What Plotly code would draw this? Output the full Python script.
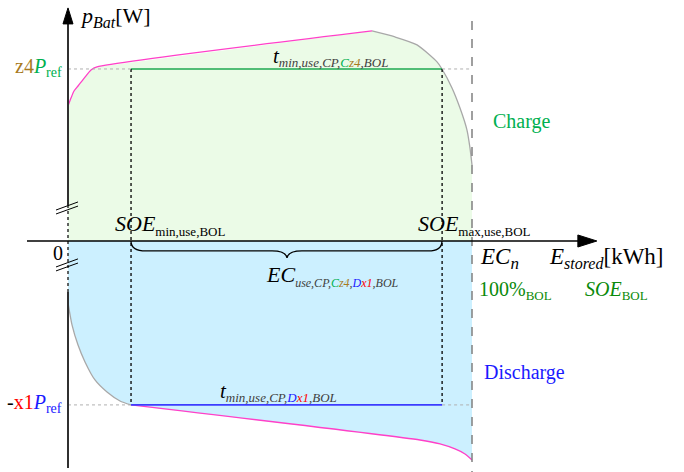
import plotly.graph_objects as go

# ---- data (energy in % of EC_n, power normalised to the charge level) ----
SOE_MIN = 15.6        # SOE_min,use,BOL
SOE_MAX = 92.6        # SOE_max,use,BOL
EC_N = 100.0          # nominal capacity
P_CHARGE = 1.0        # z4 * P_ref
P_DISCH = -0.953      # -x1 * P_ref

# charge power limit (pink) and its high-SOE roll-off (grey)
chg_lim_E = [0, 0.74, 1.49, 2.48, 4.21, 5.69, 7.18, 75.25]
chg_lim_P = [0.785, 0.831, 0.872, 0.901, 0.953, 0.994, 1.012, 1.221]
chg_roll_E = [75.25, 80.94, 86.39, 91.34, 92.57, 95.05, 97.03, 98.76, 99.5, 100]
chg_roll_P = [1.221, 1.186, 1.140, 1.041, 1.0, 0.890, 0.773, 0.645, 0.541, 0.442]

# discharge low-SOE roll-off (grey) and discharge power limit (pink)
dis_roll_E = [0, 0.99, 2.48, 4.21, 6.68, 9.65, 12.87, 15.59]
dis_roll_P = [-0.360, -0.488, -0.605, -0.703, -0.808, -0.878, -0.930, -0.953]
dis_lim_E = [15.59, 87.13, 92.08, 95.79, 98.27, 100]
dis_lim_P = [-0.953, -1.157, -1.180, -1.209, -1.238, -1.273]

X_RANGE = [-16.832, 152.475]
Y_RANGE = [-1.343, 1.401]

FONT = "Liberation Serif, Times New Roman, serif"
GREEN = "#00B050"
DKGREEN = "#0A8A0A"
BROWN = "#A87A1E"
RED = "#FF0000"
BLUE = "#1A1AFF"
PINK = "#FF40C8"
GREY = "#A8A8A8"
SUBGREY = "#404040"

fig = go.Figure()

# charge area
fig.add_trace(go.Scatter(
    x=[0] + chg_lim_E + chg_roll_E[1:] + [EC_N, 0],
    y=[0] + chg_lim_P + chg_roll_P[1:] + [0, 0],
    fill="toself", fillcolor="#EBFBE7", mode="none", hoverinfo="skip"))
# discharge area
fig.add_trace(go.Scatter(
    x=[0] + dis_roll_E + dis_lim_E[1:] + [EC_N, 0],
    y=[0] + dis_roll_P + dis_lim_P[1:] + [0, 0],
    fill="toself", fillcolor="#CCF0FF", mode="none", hoverinfo="skip"))

# boundary curves
for xs, ys, c, w in [(chg_lim_E, chg_lim_P, PINK, 1.3),
                     (chg_roll_E, chg_roll_P, GREY, 1.3),
                     (dis_roll_E, dis_roll_P, GREY, 1.3),
                     (dis_lim_E, dis_lim_P, PINK, 1.3)]:
    fig.add_trace(go.Scatter(x=xs, y=ys, mode="lines",
                             line=dict(color=c, width=w, shape="spline", smoothing=0.6),
                             hoverinfo="skip"))

# usable window rectangle
fig.add_trace(go.Scatter(x=[SOE_MIN, SOE_MAX], y=[P_CHARGE, P_CHARGE], mode="lines",
                         line=dict(color="#1EA851", width=1.5), hoverinfo="skip"))
fig.add_trace(go.Scatter(x=[SOE_MIN, SOE_MAX], y=[P_DISCH, P_DISCH], mode="lines",
                         line=dict(color="#3C3CFF", width=1.8), hoverinfo="skip"))
for xv in (SOE_MIN, SOE_MAX):
    fig.add_trace(go.Scatter(x=[xv, xv], y=[P_CHARGE, P_DISCH], mode="lines",
                             line=dict(color="black", width=1.3, dash="dot"), hoverinfo="skip"))
# reference levels
for yv in (P_CHARGE, P_DISCH):
    for x0, x1 in ((0, SOE_MIN), (SOE_MAX, EC_N)):
        fig.add_trace(go.Scatter(x=[x0, x1], y=[yv, yv], mode="lines",
                                 line=dict(color="#B0B0B0", width=1, dash="dot"),
                                 hoverinfo="skip"))

shapes = []
# EC_n limit
shapes.append(dict(type="line", xref="x", yref="y", x0=EC_N, x1=EC_N, y0=1.279, y1=Y_RANGE[0],
                   line=dict(color="#808080", width=1.5, dash="dash")))
# y axis (with break)
shapes.append(dict(type="line", xref="x", yref="y", x0=0, x1=0, y0=1.27, y1=0.209,
                   line=dict(color="#303030", width=2)))
shapes.append(dict(type="line", xref="x", yref="y", x0=0, x1=0, y0=0.209, y1=-0.297,
                   line=dict(color="#303030", width=1.5, dash="dot")))
shapes.append(dict(type="line", xref="x", yref="y", x0=0, x1=0, y0=-0.297, y1=-1.320,
                   line=dict(color="#303030", width=2)))
shapes.append(dict(type="path", xref="x", yref="y",
                   path="M -1.24,1.262 L 0,1.355 L 1.24,1.262 Z",
                   fillcolor="black", line=dict(color="black", width=1)))
# axis break marks
for y0, y1 in ((0.180, 0.227), (0.157, 0.203), (-0.151, -0.104), (-0.174, -0.128)):
    shapes.append(dict(type="line", xref="x", yref="y", x0=-2.97, x1=2.48, y0=y0, y1=y1,
                       line=dict(color="black", width=1)))
# x axis
shapes.append(dict(type="line", xref="x", yref="y", x0=-10.15, x1=127, y0=0, y1=0,
                   line=dict(color="black", width=1.5)))
shapes.append(dict(type="path", xref="x", yref="y",
                   path="M 126.2,0.035 L 130.9,0 L 126.2,-0.035 Z",
                   fillcolor="black", line=dict(color="black", width=1)))
# brace under the usable window
shapes.append(dict(type="path", xref="x", yref="y",
                   path=("M 15.59,0 Q 15.59,-0.058 19.31,-0.058 L 50.5,-0.058 "
                         "Q 53.96,-0.058 54.21,-0.099 Q 54.46,-0.058 57.92,-0.058 "
                         "L 89.11,-0.058 Q 92.57,-0.058 92.57,0"),
                   line=dict(color="black", width=1.3)))


def c(txt, col):
    return f"<span style='color:{col}'>{txt}</span>"


def sub(txt, px, italic=False):
    inner = f"<i>{txt}</i>" if italic else txt
    return f"<sub><span style='font-size:{px}px'>{inner}</span></sub>"


ann = []


def A(x, y, text, size, xa="left", ya="middle", color="black"):
    ann.append(dict(x=x, y=y, xref="x", yref="y", text=text, showarrow=False,
                    xanchor=xa, yanchor=ya, font=dict(family=FONT, size=size, color=color)))


A(2.5, 1.30, "<i>p</i>" + sub("Bat", 16, True) + "[W]", 22)
A(-1.1, 1.006, c("z4", BROWN) + c("<i>P</i>", GREEN) + sub(c("ref", GREEN), 14), 20, xa="right")
A(-1.1, -0.942, "-" + c("x1", RED) + c("<i>P</i>", BLUE) + sub(c("ref", BLUE), 14), 20, xa="right")
A(-2.4, -0.07, "0", 20, xa="center")
A(50.2, 1.07, "<i>t</i>" + sub(c("min,use,CP,", SUBGREY) + c("C", GREEN) + c("z4", BROWN)
                               + c(",BOL", SUBGREY), 13, True), 21)
A(104.8, 0.692, "Charge", 20, color=GREEN)
A(11.1, 0.093, "<i>SOE</i>" + sub("min,use,BOL", 13), 22)
A(86.1, 0.093, "<i>SOE</i>" + sub("max,use,BOL", 13), 22)
A(48.5, -0.205, "<i>EC</i>" + sub(c("use,CP,", SUBGREY) + c("C", GREEN) + c("z4", BROWN)
                                  + c(",", SUBGREY) + c("D", BLUE) + c("x1", RED)
                                  + c(",BOL", SUBGREY), 12, True), 22)
A(101.5, -0.10, "<i>EC</i>" + sub("n", 17, True), 23)
A(118.5, -0.10, "<i>E</i>" + sub("stored", 16, True) + "[kWh]", 23)
A(101.3, -0.285, "100%" + sub("BOL", 13), 20, color=DKGREEN)
A(127.5, -0.285, "<i>SOE</i>" + sub("BOL", 13), 20, color=DKGREEN)
A(102.5, -0.767, "Discharge", 20, color=BLUE)
A(37.1, -0.876, "<i>t</i>" + sub(c("min,use,CP,", SUBGREY) + c("D", BLUE) + c("x1", RED)
                                 + c(",BOL", SUBGREY), 13, True), 21)

fig.update_layout(
    width=684, height=472, margin=dict(l=0, r=0, t=0, b=0),
    paper_bgcolor="white", plot_bgcolor="white", showlegend=False,
    font=dict(family=FONT),
    xaxis=dict(range=X_RANGE, visible=False, fixedrange=True),
    yaxis=dict(range=Y_RANGE, visible=False, fixedrange=True),
    shapes=shapes, annotations=ann,
)
fig.write_html("out.html")
